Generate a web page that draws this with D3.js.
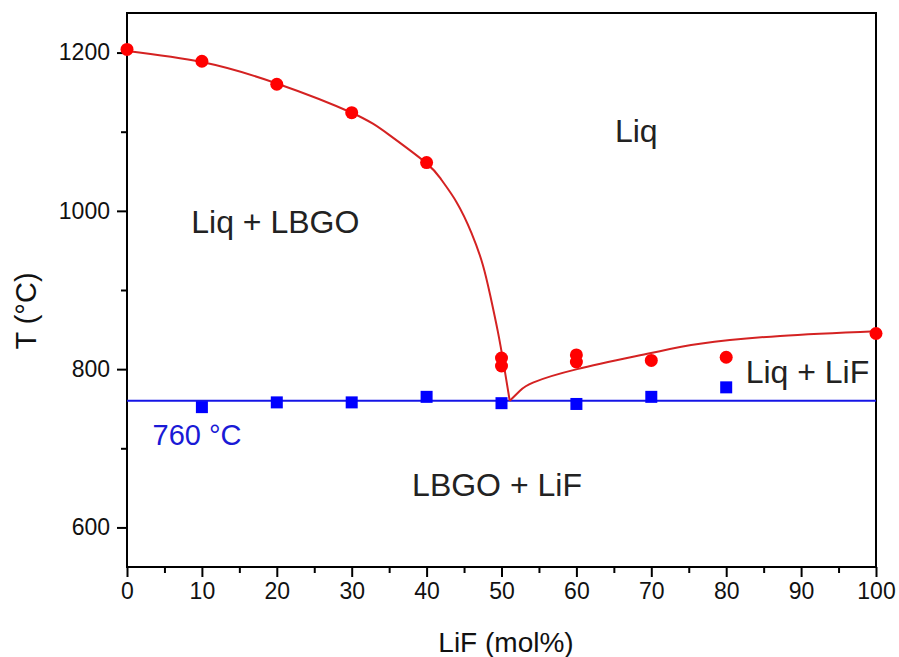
<!DOCTYPE html>
<html>
<head>
<meta charset="utf-8">
<script src="https://cdn.jsdelivr.net/npm/d3@7"></script>
<style>
  html, body { margin: 0; padding: 0; background: #fff; }
  svg { display: block; font-family: "Liberation Sans", Arial, sans-serif; }
</style>
</head>
<body>
<svg id="chart" width="899" height="657"></svg>
<script>
// ---- data ----
const liquidusX = [0, 10, 20, 30, 40, 50, 50, 60, 60, 70, 80, 100];
const liquidusT = [1204, 1189, 1160, 1124, 1061, 814, 804, 818, 809, 811, 815, 845];
const solidusX = [10, 20, 30, 40, 50, 60, 70, 80];
const solidusT = [752, 758, 758, 765, 757, 756, 765, 777];
const eutecticT = 760;
// fitted liquidus curves
const leftFitX = [0, 10, 20, 30, 35, 40, 42, 44, 46, 47.5, 48.5, 49.5, 50.3, 51.1];
const leftFitT = [1202, 1188, 1161, 1124, 1096, 1060, 1039, 1011, 972, 932, 893, 848, 806, 760];
const rightFitX = [51.1, 52.5, 54.2, 60.1, 69.8, 76.5, 87.2, 100];
const rightFitT = [760, 773, 783, 800, 820, 832, 842, 848];
const xTicks = [0, 10, 20, 30, 40, 50, 60, 70, 80, 90, 100];
const yTicks = [600, 800, 1000, 1200];
const labelText = ["Liq", "Liq + LBGO", "LBGO + LiF", "Liq + LiF"];
const labelX = [68, 19.8, 49.4, 90.85];
const labelT = [1087, 972, 640, 782.5];
const eutecticLabel = "760 °C";
const eutecticLabelX = 9.35;
const eutecticLabelT = 704;

// ---- layout ----
const svg = d3.select("#chart");
const mLeft = 127, mRight = 876, mTop = 13, mBottom = 567;
const x = d3.scaleLinear().domain([0, 100]).range([mLeft, mRight]);
const y = d3.scaleLinear().domain([550, 1250]).range([mBottom, mTop]);

// frame
svg.append("rect").attr("x", mLeft).attr("y", mTop)
  .attr("width", mRight - mLeft).attr("height", mBottom - mTop)
  .attr("fill", "none").attr("stroke", "#000").attr("stroke-width", 2);

// axes
const xAxis = d3.axisBottom(x).tickValues(xTicks).tickSize(10).tickPadding(6).tickFormat(d3.format("d"));
const xMinor = d3.axisBottom(x).tickValues(d3.range(5, 100, 10)).tickSize(6).tickFormat("");
const yAxis = d3.axisLeft(y).tickValues(yTicks).tickSize(10).tickPadding(7).tickFormat(d3.format("d"));
const yMinor = d3.axisLeft(y).tickValues([700, 900, 1100]).tickSize(6).tickFormat("");

function styleAxis(g) {
  g.select(".domain").remove();
  g.selectAll(".tick line").attr("stroke", "#000").attr("stroke-width", 2);
  g.selectAll(".tick text").attr("font-size", 23).attr("fill", "#111")
    .attr("font-family", "'Liberation Sans', Arial, sans-serif");
}
svg.append("g").attr("transform", `translate(0,${mBottom})`).call(xAxis).call(styleAxis);
svg.append("g").attr("transform", `translate(0,${mBottom})`).call(xMinor).call(styleAxis);
svg.append("g").attr("transform", `translate(${mLeft},0)`).call(yAxis).call(styleAxis);
svg.append("g").attr("transform", `translate(${mLeft},0)`).call(yMinor).call(styleAxis);

// axis titles
svg.append("text").attr("x", 506).attr("y", 652)
  .attr("text-anchor", "middle").attr("font-size", 28).attr("fill", "#111").text("LiF (mol%)");
svg.append("text").attr("transform", "translate(36,311) rotate(-90)")
  .attr("text-anchor", "middle").attr("font-size", 29).attr("fill", "#111").text("T (°C)");

// eutectic line
svg.append("line").attr("x1", x(0)).attr("x2", x(100))
  .attr("y1", y(eutecticT)).attr("y2", y(eutecticT))
  .attr("stroke", "#1515e6").attr("stroke-width", 2);

// fitted curves
const line = d3.line().x(d => x(d[0])).y(d => y(d[1])).curve(d3.curveNatural);
svg.append("path").datum(leftFitX.map((v, i) => [v, leftFitT[i]]))
  .attr("d", line).attr("fill", "none").attr("stroke", "#d42222").attr("stroke-width", 2);
svg.append("path").datum(rightFitX.map((v, i) => [v, rightFitT[i]]))
  .attr("d", line).attr("fill", "none").attr("stroke", "#d42222").attr("stroke-width", 2);

// solidus squares
const sq = 12;
svg.append("g").selectAll("rect").data(solidusX.map((v, i) => [v, solidusT[i]]))
  .join("rect")
  .attr("x", d => x(d[0]) - sq / 2).attr("y", d => y(d[1]) - sq / 2)
  .attr("width", sq).attr("height", sq).attr("fill", "#0000ff");

// liquidus circles
svg.append("g").selectAll("circle").data(liquidusX.map((v, i) => [v, liquidusT[i]]))
  .join("circle")
  .attr("cx", d => x(d[0])).attr("cy", d => y(d[1])).attr("r", 6.5).attr("fill", "#ff0000");

// region labels
svg.append("g").selectAll("text").data(labelText.map((t, i) => [t, labelX[i], labelT[i]]))
  .join("text")
  .attr("x", d => x(d[1])).attr("y", d => y(d[2]))
  .attr("text-anchor", "middle").attr("font-size", 32).attr("fill", "#222")
  .text(d => d[0]);

svg.append("text").attr("x", x(eutecticLabelX)).attr("y", y(eutecticLabelT))
  .attr("text-anchor", "middle").attr("font-size", 29).attr("fill", "#1a1ad6")
  .text(eutecticLabel);
</script>
</body>
</html>
